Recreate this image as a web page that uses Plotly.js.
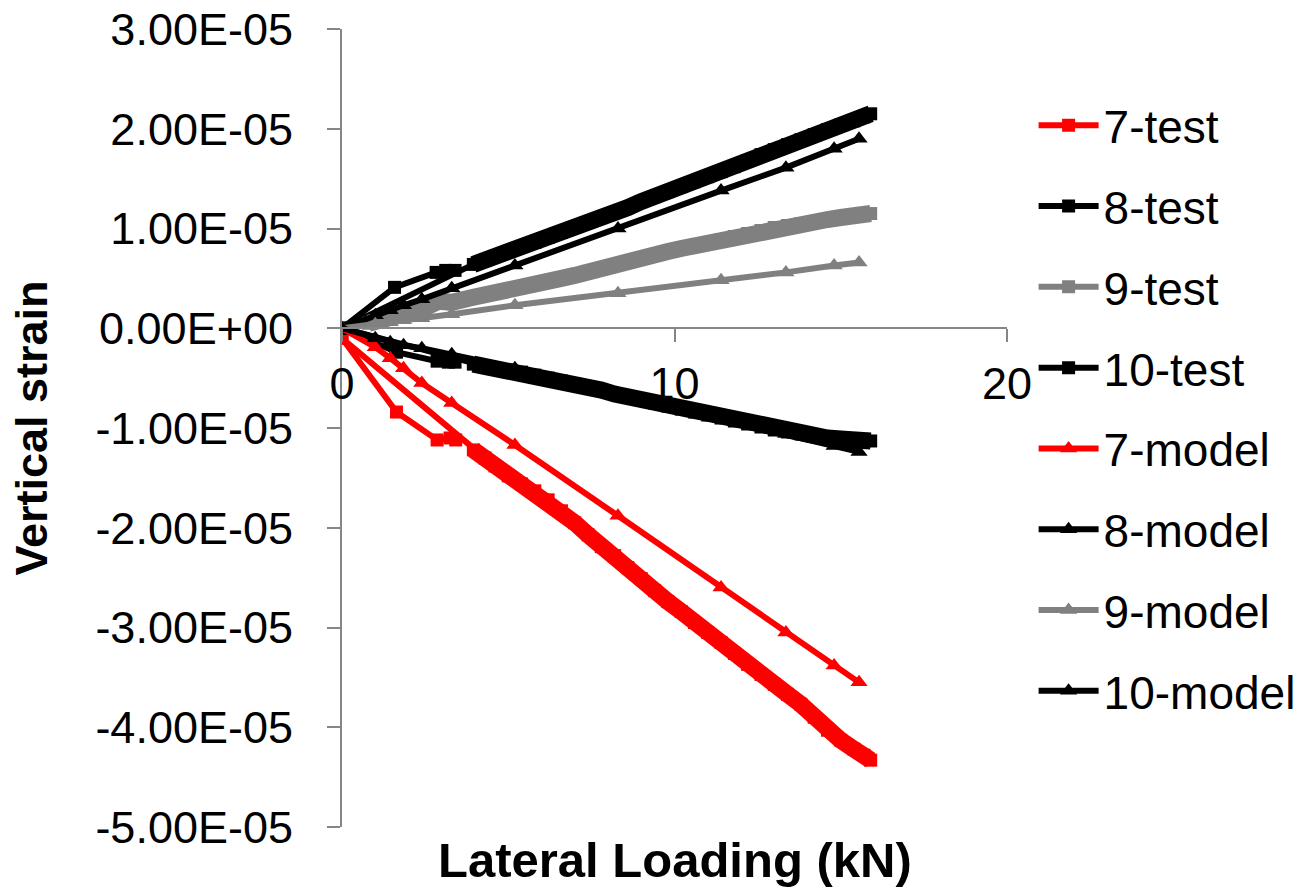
<!DOCTYPE html>
<html>
<head>
<meta charset="utf-8">
<script src="https://cdn.plot.ly/plotly-3.0.1.min.js"></script>
<style>
  html, body { margin: 0; padding: 0; background: #ffffff; }
  #chart { width: 1313px; height: 888px; }
</style>
</head>
<body>
<div id="chart"></div>
<script>
// ---------- data ----------
const seriesNames = ["7-test", "8-test", "9-test", "10-test", "7-model", "8-model", "9-model", "10-model"];

// test series: a short first loading path, then (after null) the reload path from origin
const x7Test = [0, 1.64, 2.86, 3.25, 3.42, null, 0, 3.95, 4.3, 4.6, 5.0, 5.4, 5.8, 6.2, 6.6, 7.0, 7.4, 7.8, 8.2, 8.6, 9.0, 9.4, 9.8, 10.2, 10.6, 11.0, 11.4, 11.8, 12.2, 12.6, 13.0, 13.4, 13.8, 14.2, 14.6, 15.0, 15.4, 15.7, 15.9];
const y7Test = [-0.10e-5, -0.84e-5, -1.12e-5, -1.10e-5, -1.12e-5, null, -0.10e-5, -1.22e-5, -1.30e-5, -1.38e-5, -1.48e-5, -1.56e-5, -1.63e-5, -1.72e-5, -1.83e-5, -1.95e-5, -2.07e-5, -2.19e-5, -2.28e-5, -2.40e-5, -2.51e-5, -2.63e-5, -2.74e-5, -2.84e-5, -2.95e-5, -3.05e-5, -3.15e-5, -3.26e-5, -3.37e-5, -3.47e-5, -3.57e-5, -3.67e-5, -3.77e-5, -3.90e-5, -4.03e-5, -4.13e-5, -4.22e-5, -4.28e-5, -4.33e-5];

const x8Test = [0, 1.58, 2.83, 3.12, 3.40, null, 0, 3.95, 4.3, 4.6, 5.0, 5.4, 5.8, 6.2, 6.6, 7.0, 7.4, 7.8, 8.2, 8.6, 9.0, 9.4, 9.8, 10.2, 10.6, 11.0, 11.4, 11.8, 12.2, 12.6, 13.0, 13.4, 13.8, 14.2, 14.6, 15.0, 15.4, 15.7, 15.9];
const y8Test = [0, 0.41e-5, 0.56e-5, 0.58e-5, 0.58e-5, null, 0, 0.64e-5, 0.68e-5, 0.72e-5, 0.77e-5, 0.82e-5, 0.86e-5, 0.91e-5, 0.96e-5, 1.01e-5, 1.06e-5, 1.11e-5, 1.16e-5, 1.21e-5, 1.27e-5, 1.32e-5, 1.37e-5, 1.42e-5, 1.47e-5, 1.52e-5, 1.57e-5, 1.62e-5, 1.68e-5, 1.74e-5, 1.79e-5, 1.84e-5, 1.89e-5, 1.94e-5, 1.99e-5, 2.04e-5, 2.08e-5, 2.12e-5, 2.15e-5];

const x9Test = [0, 0.8, 1.64, 2.4, 2.9, 3.3, 3.95, 4.3, 4.6, 5.0, 5.4, 5.8, 6.2, 6.6, 7.0, 7.4, 7.8, 8.2, 8.6, 9.0, 9.4, 9.8, 10.2, 10.6, 11.0, 11.4, 11.8, 12.2, 12.6, 13.0, 13.4, 13.8, 14.2, 14.6, 15.0, 15.4, 15.7, 15.9];
const y9Test = [0, 0.05e-5, 0.12e-5, 0.19e-5, 0.27e-5, 0.26e-5, 0.31e-5, 0.33e-5, 0.35e-5, 0.38e-5, 0.41e-5, 0.44e-5, 0.47e-5, 0.50e-5, 0.53e-5, 0.57e-5, 0.60e-5, 0.63e-5, 0.66e-5, 0.70e-5, 0.74e-5, 0.77e-5, 0.80e-5, 0.83e-5, 0.86e-5, 0.89e-5, 0.92e-5, 0.95e-5, 0.98e-5, 1.01e-5, 1.03e-5, 1.05e-5, 1.07e-5, 1.09e-5, 1.11e-5, 1.13e-5, 1.14e-5, 1.15e-5];

const x10Test = [0, 1.64, 2.86, 3.2, 3.4, null, 0, 3.95, 4.3, 4.6, 5.0, 5.4, 5.8, 6.2, 6.6, 7.0, 7.4, 7.8, 8.2, 8.6, 9.0, 9.4, 9.8, 10.2, 10.6, 11.0, 11.4, 11.8, 12.2, 12.6, 13.0, 13.4, 13.8, 14.2, 14.6, 15.0, 15.4, 15.7, 15.9];
const y10Test = [0, -0.24e-5, -0.33e-5, -0.34e-5, -0.34e-5, null, 0, -0.36e-5, -0.38e-5, -0.40e-5, -0.42e-5, -0.44e-5, -0.47e-5, -0.50e-5, -0.53e-5, -0.56e-5, -0.59e-5, -0.62e-5, -0.66e-5, -0.69e-5, -0.72e-5, -0.75e-5, -0.78e-5, -0.81e-5, -0.84e-5, -0.87e-5, -0.90e-5, -0.93e-5, -0.96e-5, -0.99e-5, -1.02e-5, -1.04e-5, -1.06e-5, -1.08e-5, -1.10e-5, -1.11e-5, -1.12e-5, -1.13e-5, -1.13e-5];

// model series (shared load steps)
const xModel = [0, 1.0, 1.45, 1.85, 2.4, 3.3, 5.2, 8.3, 11.4, 13.35, 14.8, 15.55];
const y7Model = [0, -0.19e-5, -0.30e-5, -0.40e-5, -0.55e-5, -0.75e-5, -1.17e-5, -1.88e-5, -2.60e-5, -3.05e-5, -3.38e-5, -3.55e-5];
const y8Model = [0, 0.13e-5, 0.18e-5, 0.23e-5, 0.29e-5, 0.40e-5, 0.63e-5, 1.00e-5, 1.38e-5, 1.61e-5, 1.80e-5, 1.90e-5];
const y9Model = [0, 0.04e-5, 0.06e-5, 0.08e-5, 0.10e-5, 0.14e-5, 0.23e-5, 0.35e-5, 0.48e-5, 0.56e-5, 0.63e-5, 0.66e-5];
const y10Model = [0, -0.10e-5, -0.14e-5, -0.17e-5, -0.20e-5, -0.26e-5, -0.40e-5, -0.67e-5, -0.91e-5, -1.06e-5, -1.18e-5, -1.24e-5];

// axis ticks
const xTickVals = [0, 10, 20];
const xTickText = ["0", "10", "20"];
const yTickVals = [3e-5, 2e-5, 1e-5, 0, -1e-5, -2e-5, -3e-5, -4e-5, -5e-5];
const yTickText = ["3.00E-05", "2.00E-05", "1.00E-05", "0.00E+00", "-1.00E-05", "-2.00E-05", "-3.00E-05", "-4.00E-05", "-5.00E-05"];

// ---------- styling ----------
const RED = "#FF0000", BLACK = "#000000", GRAY = "#808080";
const FONT = "Liberation Sans, Arial, Helvetica, sans-serif";

function bandFrom(xs, ys) {
  // dense part of a test record (after the reload from origin)
  const k = xs.indexOf(null);
  const start = k >= 0 ? k + 2 : 1;
  return { x: xs.slice(start), y: ys.slice(start) };
}

function band(xs, ys, color) {
  const b = bandFrom(xs, ys);
  return { x: b.x, y: b.y, type: "scatter", mode: "lines", showlegend: false, hoverinfo: "skip",
           line: { color: color, width: 17 } };
}
function testTrace(name, xs, ys, color) {
  return { x: xs, y: ys, name: name, legendgroup: name, type: "scatter", mode: "lines+markers",
           connectgaps: false,
           line: { color: color, width: 6 }, marker: { symbol: "square", size: 13, color: color } };
}
function modelTrace(name, xs, ys, color) {
  return { x: xs, y: ys, name: name, legendgroup: name, type: "scatter", mode: "lines+markers",
           line: { color: color, width: 6 }, marker: { symbol: "triangle-up", size: 15, color: color } };
}

const data = [
  band(x7Test, y7Test, RED),   testTrace(seriesNames[0], x7Test, y7Test, RED),
  band(x8Test, y8Test, BLACK), testTrace(seriesNames[1], x8Test, y8Test, BLACK),
  band(x9Test, y9Test, GRAY),  testTrace(seriesNames[2], x9Test, y9Test, GRAY),
  band(x10Test, y10Test, BLACK), testTrace(seriesNames[3], x10Test, y10Test, BLACK),
  modelTrace(seriesNames[4], xModel, y7Model, RED),
  modelTrace(seriesNames[5], xModel, y8Model, BLACK),
  modelTrace(seriesNames[6], xModel, y9Model, GRAY),
  modelTrace(seriesNames[7], xModel, y10Model, BLACK)
];

const layout = {
  width: 1313, height: 888,
  margin: { l: 342, r: 299, t: 29, b: 61, pad: 0 },
  paper_bgcolor: "#ffffff", plot_bgcolor: "#ffffff",
  font: { family: FONT, color: "#000000", size: 46 },
  showlegend: true,
  xaxis: {
    range: [0, 20], autorange: false,
    anchor: "free", position: 0.625,
    tickmode: "array", tickvals: xTickVals, ticktext: xTickText,
    ticks: "outside", ticklen: 13, tickwidth: 2, tickcolor: "#868686",
    showline: true, linecolor: "#868686", linewidth: 2,
    showgrid: false, zeroline: false,
    tickfont: { family: FONT, size: 45, color: "#000000" },
    ticklabelstandoff: 3
  },
  yaxis: {
    range: [-5e-5, 3e-5], autorange: false,
    tickmode: "array", tickvals: yTickVals, ticktext: yTickText,
    ticks: "outside", ticklen: 13, tickwidth: 2, tickcolor: "#868686",
    showline: true, linecolor: "#868686", linewidth: 2,
    showgrid: false, zeroline: false,
    tickfont: { family: FONT, size: 45, color: "#000000" },
    ticklabelstandoff: 25,
    title: { text: "<b>Vertical strain</b>", font: { family: FONT, size: 45, color: "#000000" }, standoff: 34 }
  },
  legend: {
    x: 1.04, xanchor: "left", y: 0.925, yanchor: "top",
    font: { family: FONT, size: 46, color: "#000000" },
    bgcolor: "rgba(0,0,0,0)", borderwidth: 0,
    traceorder: "grouped", tracegroupgap: 18, itemwidth: 60
  },
  annotations: [{
    text: "<b>Lateral Loading (kN)</b>", xref: "paper", yref: "paper",
    x: 0.5, y: -0.041, xanchor: "center", yanchor: "middle", showarrow: false,
    font: { family: FONT, size: 49, color: "#000000" }
  }]
};

Plotly.newPlot("chart", data, layout, { staticPlot: true, displayModeBar: false });
</script>
</body>
</html>
